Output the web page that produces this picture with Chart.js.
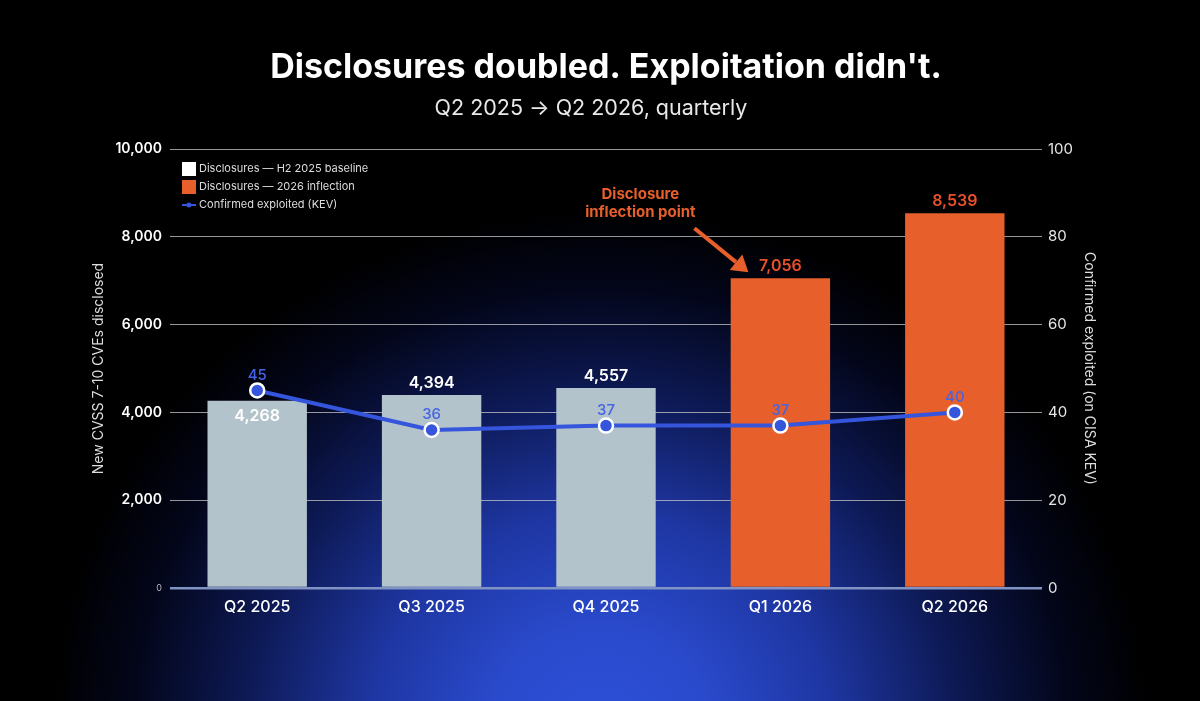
<!DOCTYPE html>
<html>
<head>
<meta charset="utf-8">
<script src="https://cdn.jsdelivr.net/npm/chart.js@4.4.1/dist/chart.umd.min.js"></script>
<style>
  html, body { margin: 0; padding: 0; width: 1200px; height: 701px; overflow: hidden; }
  body {
    background: #000;
    background-image: radial-gradient(ellipse 550px 520px at 600px 730px, #2d50d8 0%, #2a4acc 20%, #1e36a2 42%, #0d1954 65%, #03061a 85%, #000 100%);
    font-family: Inter, "Noto Sans", sans-serif;
  }
  #wrap { position: absolute; left: 0; top: 0; width: 1200px; height: 701px; }
</style>
</head>
<body>
<div id="wrap"><canvas id="c" width="1200" height="701"></canvas></div>
<script>
const titleText = "Disclosures doubled. Exploitation didn't.";
const subtitleText = "Q2 2025 \u2192 Q2 2026, quarterly";
const categories = ["Q2 2025", "Q3 2025", "Q4 2025", "Q1 2026", "Q2 2026"];
const disclosures = [4268, 4394, 4557, 7056, 8539];
const isInflection = [false, false, false, true, true];
const exploited = [45, 36, 37, 37, 40];
const leftTicks = [0, 2000, 4000, 6000, 8000, 10000];
const rightTicks = [0, 20, 40, 60, 80, 100];
const legendLabels = ["Disclosures \u2014 H2 2025 baseline", "Disclosures \u2014 2026 inflection", "Confirmed exploited (KEV)"];
const leftAxisTitle = "New CVSS 7-10 CVEs disclosed";
const rightAxisTitle = "Confirmed exploited (on CISA KEV)";
const annotationLines = ["Disclosure", "inflection point"];
const annotationIndex = 3;

const GRAY = '#b3c3cb', ORANGE = '#e75f2a', ORANGE_TXT = '#e8502c', BLUE = '#3556dc', BLUE_TXT = '#4564e6';
const FONT = 'Inter, "Noto Sans", sans-serif';

const baseline = disclosures.map((v, i) => isInflection[i] ? null : v);
const inflection = disclosures.map((v, i) => isInflection[i] ? v : null);

const decor = {
  id: 'decor',
  afterDraw(chart) {
    const ctx = chart.ctx, ca = chart.chartArea;
    const x = chart.scales.x, y = chart.scales.y, y1 = chart.scales.y1;
    ctx.save();
    // title
    ctx.textAlign = 'center'; ctx.textBaseline = 'middle';
    ctx.fillStyle = '#ffffff';
    ctx.font = '700 34px ' + FONT;
    ctx.fillText(titleText, 606, 68);
    ctx.fillStyle = '#e8e8e8';
    ctx.font = '400 21.5px ' + FONT;
    ctx.fillText(subtitleText, 591, 109);

    // bar value labels
    disclosures.forEach((v, i) => {
      const px = x.getPixelForValue(i), py = y.getPixelForValue(v);
      const py2 = y1.getPixelForValue(exploited[i]);
      ctx.font = '600 16px ' + FONT;
      ctx.fillStyle = isInflection[i] ? ORANGE_TXT : '#ffffff';
      const above = py - 12;
      // place inside bar when the line label would collide
      const inside = Math.abs(above - (py2 - 15)) < 22;
      ctx.fillText(v.toLocaleString('en-US'), px, inside ? py + 16 : above);
    });
    // line value labels
    exploited.forEach((v, i) => {
      const px = x.getPixelForValue(i), py = y1.getPixelForValue(v);
      ctx.font = '500 15px ' + FONT;
      ctx.fillStyle = BLUE_TXT;
      ctx.fillText(String(v), px, py - 15);
    });

    // legend
    const lx = ca.left + 12;
    let ly = ca.top + 20;
    ctx.textAlign = 'left';
    ctx.font = '400 11px ' + FONT;
    ctx.fillStyle = '#ffffff'; ctx.fillRect(lx, ly - 7, 14, 14);
    ctx.fillStyle = '#dddddd'; ctx.fillText(legendLabels[0], lx + 17, ly);
    ly += 18;
    ctx.fillStyle = ORANGE; ctx.fillRect(lx, ly - 7, 14, 14);
    ctx.fillStyle = '#dddddd'; ctx.fillText(legendLabels[1], lx + 17, ly);
    ly += 18;
    ctx.strokeStyle = BLUE; ctx.lineWidth = 2;
    ctx.beginPath(); ctx.moveTo(lx, ly); ctx.lineTo(lx + 14, ly); ctx.stroke();
    ctx.fillStyle = BLUE; ctx.beginPath(); ctx.arc(lx + 7, ly, 2.5, 0, Math.PI * 2); ctx.fill();
    ctx.fillStyle = '#dddddd'; ctx.fillText(legendLabels[2], lx + 17, ly);

    // annotation
    const bx = x.getPixelForValue(annotationIndex), by = y.getPixelForValue(disclosures[annotationIndex]);
    ctx.textAlign = 'center';
    ctx.font = '700 15px ' + FONT;
    ctx.fillStyle = ORANGE;
    ctx.fillText(annotationLines[0], bx - 140, by - 84);
    ctx.fillText(annotationLines[1], bx - 140, by - 66);
    const tx = bx - 32, ty = by - 6, sx = bx - 86, sy = by - 50;
    const ang = Math.atan2(ty - sy, tx - sx);
    const hl = 16, hw = 10;
    const ex = tx - Math.cos(ang) * hl, ey = ty - Math.sin(ang) * hl;
    ctx.strokeStyle = ORANGE; ctx.lineWidth = 4;
    ctx.beginPath(); ctx.moveTo(sx, sy); ctx.lineTo(ex, ey); ctx.stroke();
    ctx.beginPath();
    ctx.moveTo(tx, ty);
    ctx.lineTo(ex + Math.sin(ang) * hw, ey - Math.cos(ang) * hw);
    ctx.lineTo(ex - Math.sin(ang) * hw, ey + Math.cos(ang) * hw);
    ctx.closePath(); ctx.fill();
    ctx.restore();
  }
};

new Chart(document.getElementById('c'), {
  data: {
    labels: categories,
    datasets: [
      { type: 'line', label: legendLabels[2], data: exploited, yAxisID: 'y1', order: 0,
        borderColor: BLUE, borderWidth: 4, backgroundColor: BLUE,
        pointRadius: 7, pointBorderColor: '#ffffff', pointBorderWidth: 2.5, pointBackgroundColor: BLUE,
        tension: 0 },
      { type: 'bar', label: legendLabels[0], data: baseline, yAxisID: 'y', order: 1, stack: 'd',
        backgroundColor: GRAY, barPercentage: 0.57, categoryPercentage: 1.0 },
      { type: 'bar', label: legendLabels[1], data: inflection, yAxisID: 'y', order: 1, stack: 'd',
        backgroundColor: ORANGE, barPercentage: 0.57, categoryPercentage: 1.0 }
    ]
  },
  options: {
    responsive: false,
    animation: false,
    devicePixelRatio: 1,
    layout: { padding: { top: 149, left: 86, right: 96, bottom: 73 } },
    plugins: { legend: { display: false }, tooltip: { enabled: false }, title: { display: false } },
    scales: {
      x: {
        grid: { display: false, drawTicks: false },
        border: { display: false },
        ticks: { color: '#ffffff', font: { family: FONT, size: 16, weight: 500 }, padding: 10 },
        afterFit(s) { s.height = 40; }
      },
      y: {
        position: 'left', min: 0, max: 10000, stacked: false,
        afterBuildTicks(s) { s.ticks = leftTicks.map(v => ({ value: v })); },
        grid: {
          drawTicks: false,
          color: c => c.tick && c.tick.value === 0 ? '#8093c4' : 'rgba(200,200,200,0.75)',
          lineWidth: c => c.tick && c.tick.value === 0 ? 2.5 : 1
        },
        border: { display: false },
        ticks: {
          padding: 8,
          color: c => c.tick.value === 0 ? '#bbbbbb' : '#ffffff',
          font: c => c.tick && c.tick.value === 0 ? { family: FONT, size: 9 } : { family: FONT, size: 14, weight: 600 },
          callback: v => Number(v).toLocaleString('en-US')
        },
        title: { display: true, text: leftAxisTitle, color: '#dddddd', font: { family: FONT, size: 14 }, padding: { bottom: 6 } },
        afterFit(s) { s.width = 84; }
      },
      y1: {
        position: 'right', min: 0, max: 100,
        afterBuildTicks(s) { s.ticks = rightTicks.map(v => ({ value: v })); },
        grid: { display: false, drawTicks: false },
        border: { display: false },
        ticks: { padding: 6, color: '#e6e6e6', font: { family: FONT, size: 15 } },
        title: { display: true, text: rightAxisTitle, color: '#dddddd', font: { family: FONT, size: 14 }, padding: { top: 6 } },
        afterFit(s) { s.width = 62; }
      }
    }
  },
  plugins: [decor]
});
</script>
</body>
</html>
